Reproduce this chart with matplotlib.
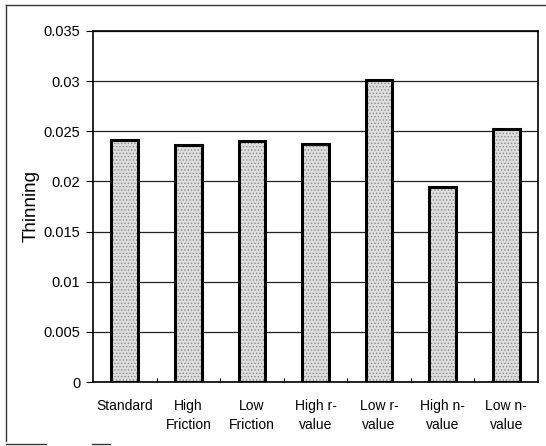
import matplotlib
matplotlib.use("Agg")
import matplotlib.pyplot as plt
from matplotlib.lines import Line2D
import numpy as np

categories = ["Standard", "High\nFriction", "Low\nFriction", "High r-\nvalue",
              "Low r-\nvalue", "High n-\nvalue", "Low n-\nvalue"]
thinning = [0.0241, 0.0236, 0.0240, 0.0237, 0.0301, 0.0194, 0.0252]
yticks = [0, 0.005, 0.01, 0.015, 0.02, 0.025, 0.03, 0.035]
ytick_labels = ["0", "0.005", "0.01", "0.015", "0.02", "0.025", "0.03", "0.035"]

plt.rcParams['font.family'] = ['Liberation Sans', 'DejaVu Sans']
plt.rcParams['hatch.linewidth'] = 0.6

W, H = 546, 446
fig = plt.figure(figsize=(W / 100, H / 100), dpi=100)
L, R, T, B = 93, 538, 31, 382
ax = fig.add_axes([L / W, 1 - B / H, (R - L) / W, (B - T) / H])

x = np.arange(len(categories))
ax.bar(x, thinning, width=0.42, color='#dedede', edgecolor='#8a8a8a',
       hatch='.....', linewidth=0, zorder=3)
ax.bar(x, thinning, width=0.42, fill=False, edgecolor='black',
       linewidth=2.2, zorder=4)

ax.set_xlim(-0.5, len(categories) - 0.5)
ax.set_ylim(0, 0.035)
ax.set_yticks(yticks)
ax.set_yticklabels(ytick_labels, fontsize=10.5)
ax.set_xticks(x)
ax.set_xticklabels(categories, fontsize=10, linespacing=1.45)
ax.tick_params(axis='x', length=0, pad=12)
ax.tick_params(axis='y', length=5, width=0.8, direction='out', pad=4)
ax.set_xticks(np.arange(0.5, len(categories) - 0.5, 1), minor=True)
ax.tick_params(axis='x', which='minor', length=3, direction='in', width=0.8)

ax.yaxis.grid(True, color='#222222', linewidth=0.9, zorder=0)
ax.set_axisbelow(True)
for s in ax.spines.values():
    s.set_linewidth(1.2)
    s.set_color('black')

ax.set_ylabel("Thinning", fontsize=13.5, labelpad=3)

def fline(x0, y0, x1, y1):
    fig.lines.append(Line2D([x0 / W, x1 / W], [1 - y0 / H, 1 - y1 / H],
                            transform=fig.transFigure, color='#333333',
                            linewidth=1.0))

fline(6, 5, 546, 5)
fline(6, 5, 6, 441)
fline(6, 444, 46, 444)
fline(92, 444, 110, 444)

fig.savefig("out.png", dpi=100)
